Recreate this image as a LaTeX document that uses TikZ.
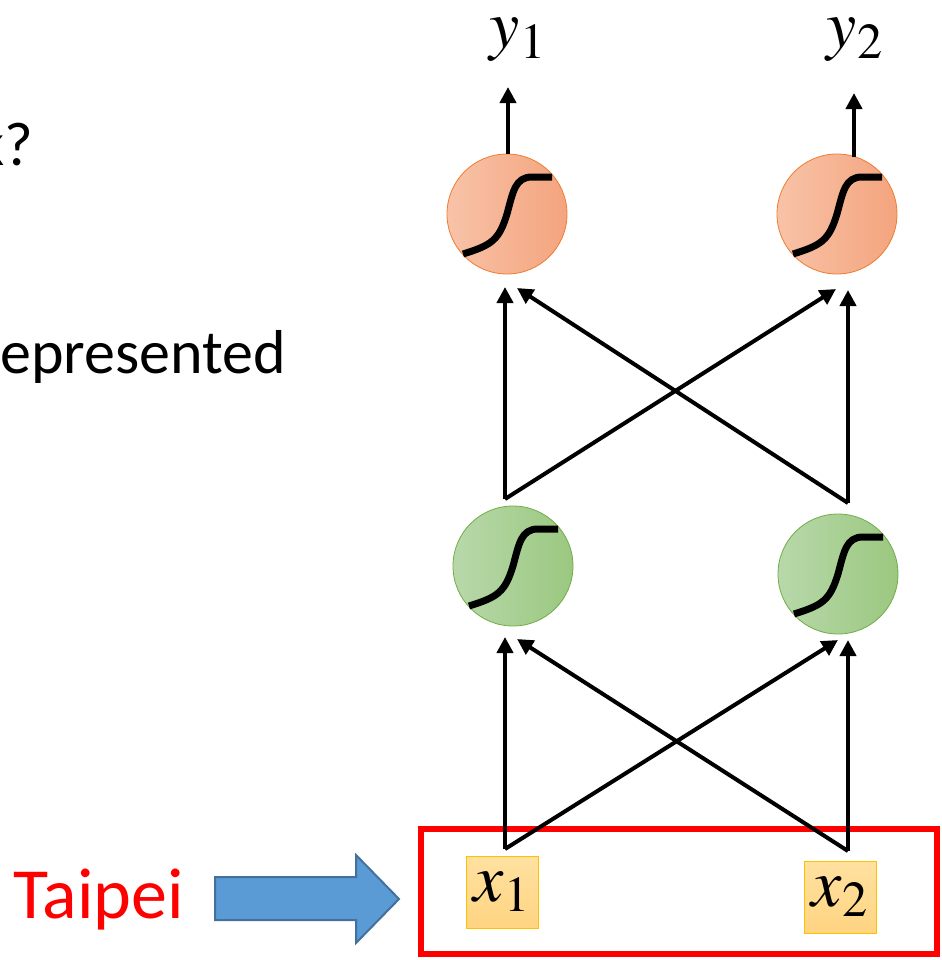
\documentclass[tikz,border=0pt]{standalone}
\usepackage{mathptmx}
\usepackage[no-math]{fontspec}
\setmainfont{Carlito}
\usepackage{tikz}
\usetikzlibrary{arrows.meta}
\definecolor{sigorange}{RGB}{237,125,49}
\definecolor{sigorangeL}{RGB}{248,195,168}
\definecolor{sigorangeR}{RGB}{244,164,126}
\definecolor{siggreen}{RGB}{112,173,71}
\definecolor{siggreenL}{RGB}{184,216,170}
\definecolor{siggreenR}{RGB}{155,200,128}
\definecolor{boxedge}{RGB}{255,192,0}
\definecolor{boxtop}{RGB}{255,225,160}
\definecolor{boxbot}{RGB}{255,212,130}
\definecolor{feedblue}{RGB}{91,155,213}
\definecolor{feededge}{RGB}{65,113,156}
\newcommand{\varsub}[2]{{\fontsize{34}{36}\selectfont$#1_{#2}$}}

\begin{document}
\begin{tikzpicture}[x=0.5pt, y=-0.5pt]
    % Styles
    \tikzstyle{outneuron} = [circle, draw=sigorange, left color=sigorangeL, right color=sigorangeR,
        minimum size=60pt, inner sep=0pt]
    \tikzstyle{hidneuron} = [circle, draw=siggreen, left color=siggreenL, right color=siggreenR,
        minimum size=60pt, inner sep=0pt]
    \tikzstyle{inbox} = [rectangle, draw=boxedge, top color=boxtop, bottom color=boxbot,
        minimum size=36pt, inner sep=0pt]
    \tikzstyle{arrow} = [line width=2pt, -{Triangle[length=8pt, width=8pt]}]
    \tikzstyle{slide} = [inner sep=0pt, font=\fontsize{31}{38}\selectfont]
    \tikzset{sigmoid/.pic={
        \draw [line width=3.5pt] (-44,40) .. controls (-15,31) and (-8,26) .. (0,0)
            .. controls (6,-22) and (8,-37) .. (25,-37) -- (45,-37);
    }}

    \useasboundingbox (0,0) rectangle (942,960);
    \clip (0,0) rectangle (942,960);

    % Slide text
    \node [slide, anchor=base east] (question) at (34,165) {k?};
    \node [slide, anchor=base west] (represented) at (0,373) {epresented};
    \node [slide, anchor=base west, red, font=\fontsize{36}{40}\selectfont] (city) at (13,918) {Taipei};
    \draw [fill=feedblue, draw=feededge, line width=1pt] (215,877) -- (356,877) -- (356,855)
        -- (399,899) -- (356,943) -- (356,920) -- (215,920) -- cycle;

    % Nodes
    \node [draw=red, line width=3pt, minimum width=258pt, minimum height=62.5pt, inner sep=0pt] (inputs) at (679,891.5) {};
    \node [inbox] (x1) at (502,892) {\varsub{x}{1}};
    \node [inbox] (x2) at (840,897) {\varsub{x}{2}};
    \node [hidneuron] (g1) at (513,566) {};
    \node [hidneuron] (g2) at (838,574) {};
    \node [outneuron] (o1) at (507,214) {};
    \node [outneuron] (o2) at (837,214) {};
    \pic at (g1) {sigmoid};
    \pic at (g2) {sigmoid};
    \pic at (o1) {sigmoid};
    \pic at (o2) {sigmoid};
    \node [inner sep=0pt] (y1) at (518,40) {\varsub{y}{1}};
    \node [inner sep=0pt] (y2) at (855,40) {\varsub{y}{2}};

    % Connector ends
    \coordinate (in1) at (505,849);
    \coordinate (in2) at (848,851);
    \coordinate (g1a) at (505,637);
    \coordinate (g1b) at (517,639);
    \coordinate (g2a) at (838,640);
    \coordinate (g2b) at (848,640);
    \coordinate (h1) at (505,499);
    \coordinate (h2) at (848,503);
    \coordinate (o1a) at (505,287);
    \coordinate (o1b) at (517,288);
    \coordinate (o2a) at (836,289);
    \coordinate (o2b) at (848,290);
    \coordinate (o1top) at (508,154);
    \coordinate (o2top) at (854,157);
    \coordinate (y1tip) at (508,87);
    \coordinate (y2tip) at (854,93);

    % Arrows
    \draw [arrow] (in1) -- (g1a);
    \draw [arrow] (in1) -- (g2a);
    \draw [arrow] (in2) -- (g1b);
    \draw [arrow] (in2) -- (g2b);
    \draw [arrow] (h1) -- (o1a);
    \draw [arrow] (h1) -- (o2a);
    \draw [arrow] (h2) -- (o1b);
    \draw [arrow] (h2) -- (o2b);
    \draw [arrow] (o1top) -- (y1tip);
    \draw [arrow] (o2top) -- (y2tip);
\end{tikzpicture}
\end{document}
